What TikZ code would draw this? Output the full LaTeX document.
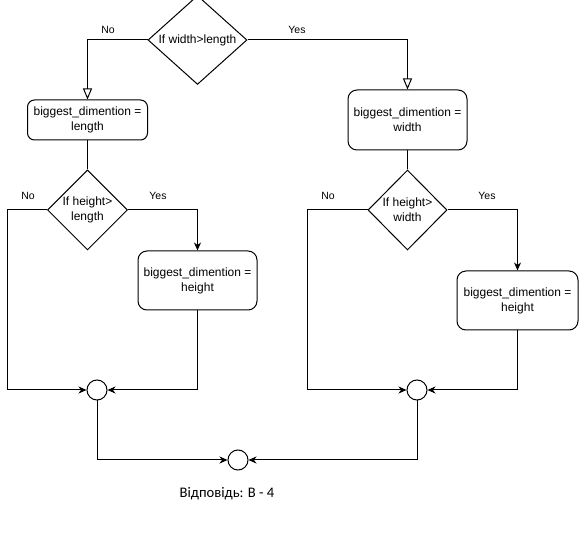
\documentclass[tikz,border=0pt]{standalone}
\usepackage{fontspec}
\setmainfont{Liberation Sans}
\newfontfamily\notefont{Carlito}
\usetikzlibrary{shapes.geometric,arrows.meta}
\begin{document}
\begin{tikzpicture}[x=1pt,y=-1pt,
  line width=1pt,
  every node/.style={font=\fontsize{12}{15}\selectfont},
  action/.style={draw,rounded corners=#1,align=center,inner sep=0pt,minimum width=120pt},
  action/.default=7pt,
  test/.style={draw,diamond,align=center,inner sep=0pt,minimum width=80pt,minimum height=80pt},
  mergept/.style={draw,circle,inner sep=0pt,minimum size=20pt},
  branch/.style={font=\fontsize{10.5}{12}\selectfont,inner sep=0pt},
  openhead/.style={-{Triangle[open,length=11pt,width=9pt]}},
  solidhead/.style={-{Stealth[length=8pt,width=7pt,inset=2.5pt]}},
]
\useasboundingbox (0,0) rectangle (587,537);

% top decision
\node[test,minimum width=99pt] (d1) at (197.5,40) {If width>length};
\node[branch] (no1) at (108,30) {No};
\node[branch] (yes1) at (297,30) {Yes};

% left branch
\node[action,minimum height=40pt] (b1) at (87.5,120) {biggest\_dimention =\\length};
\node[test] (d2) at (87.5,210) {If height>\\length};
\node[branch] (no2) at (28,196) {No};
\node[branch] (yes2) at (158,196) {Yes};
\node[action,minimum height=59pt,minimum width=119pt,rounded corners=9pt] (b3) at (197.5,280.5) {biggest\_dimention =\\height};
\node[mergept] (c1) at (97,390) {};
\coordinate (l1) at (7,210);

% right branch
\node[action,minimum height=60pt,minimum width=119pt,rounded corners=9pt] (b2) at (407.5,120) {biggest\_dimention =\\width};
\node[test,minimum width=79pt] (d3) at (407.5,210) {If height>\\width};
\node[branch] (no3) at (328,196) {No};
\node[branch] (yes3) at (487,196) {Yes};
\node[action,minimum height=59pt,minimum width=121pt,rounded corners=9pt] (b4) at (517.5,300.5) {biggest\_dimention =\\height};
\node[mergept] (c2) at (417,390) {};
\coordinate (l2) at (307,210);

% final merge
\node[mergept] (c3) at (238,460) {};
\node[font=\notefont\fontsize{14.6}{16}\selectfont] (ans) at (227,494) {Відповідь: В - 4};

% connectors
\draw[openhead] (d1.west) -| (b1.north);
\draw[openhead] (d1.east) -| (b2.north);

\draw (b1.south) -- (d2.north);
\draw[solidhead] (d2.east) -| (b3.north);
\draw (d2.west) -- (l1);
\draw[solidhead] (l1) |- (c1.west);
\draw[solidhead] (b3.south) |- (c1.east);

\draw (b2.south) -- (d3.north);
\draw[solidhead] (d3.east) -| (b4.north);
\draw (d3.west) -- (l2);
\draw[solidhead] (l2) |- (c2.west);
\draw[solidhead] (b4.south) |- (c2.east);

\draw[solidhead] (c1.south) |- (c3.west);
\draw[solidhead] (c2.south) |- (c3.east);
\end{tikzpicture}
\end{document}
